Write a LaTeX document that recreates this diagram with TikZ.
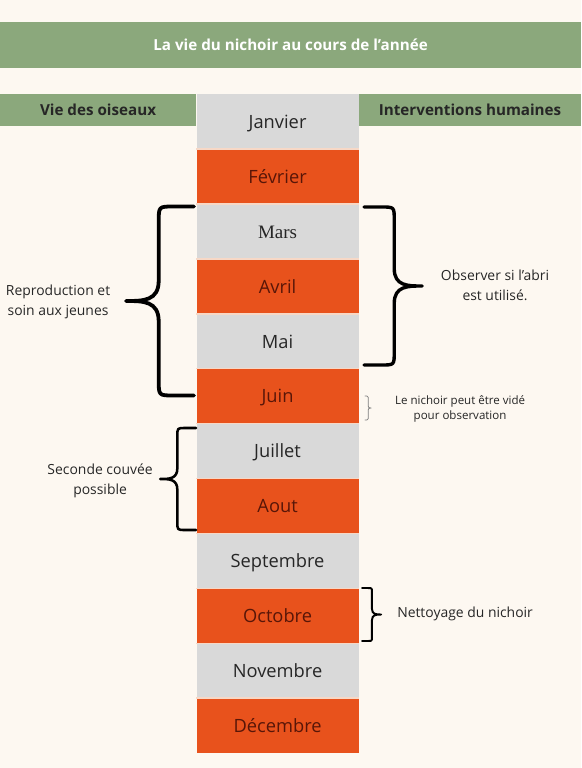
\documentclass[tikz,border=0pt]{standalone}
\usepackage{fontspec}
\setmainfont{Open Sans}
\newfontfamily\marsfont{Liberation Serif}
\usetikzlibrary{positioning}
\definecolor{cream}{RGB}{253,248,241}
\definecolor{sage}{RGB}{139,168,124}
\definecolor{rust}{RGB}{232,82,28}
\definecolor{mist}{RGB}{217,217,217}
\definecolor{seam}{RGB}{247,216,198}
\definecolor{maroon}{RGB}{88,22,8}
\definecolor{ink}{RGB}{38,38,38}
\tikzset{
  band/.style={fill=sage,inner sep=0pt,font=\fontsize{10.8}{13}\selectfont\bfseries},
  month/.style={fill=#1,inner sep=0pt,text height=1em,text depth=0pt,
    minimum width=4.05cm,minimum height=1.3725cm,font=\fontsize{13}{15}\selectfont},
  note/.style={text=ink,align=center,font=\fontsize{9.9}{14}\selectfont},
  tiny note/.style={text=ink,align=center,font=\fontsize{8.2}{11.3}\selectfont},
  % curly brace, tip at the origin, opening to the right
  pics/curly/.style n args={2}{code={
    \draw[line cap=round,line join=round] (#2,-#1) -- (0.7*#2,-#1)
      .. controls (0.48*#2,-#1) .. (0.48*#2,-#1+0.22*#2) -- (0.48*#2,-0.3*#2)
      .. controls (0.48*#2,0) and (0.25*#2,0) .. (0,0)
      .. controls (0.25*#2,0) and (0.48*#2,0) .. (0.48*#2,0.3*#2)
      -- (0.48*#2,#1-0.22*#2) .. controls (0.48*#2,#1) .. (0.7*#2,#1) -- (#2,#1);
  }},
}

\begin{document}
\begin{tikzpicture}[x=0.025cm,y=-0.025cm]
  \fill[cream] (0,0) rectangle (581,768);
  % title and column headers
  \node[band,text=white,minimum width=14.525cm,minimum height=1.15cm] (title) at (290.5,45) {La vie du nichoir au cours de l’année};
  \node[band,text=ink,minimum width=4.9cm,minimum height=0.8cm] (birds) at (98,110) {Vie des oiseaux};
  \node[band,text=ink,minimum width=5.55cm,minimum height=0.8cm] (humans) at (470,110) {Interventions humaines};
  % months
  \foreach \i/\m/\c/\t in {1/Janvier/mist/ink,2/Février/rust/maroon,3/{\marsfont\fontsize{13.5}{15}\selectfont Mars}/mist/ink,
      4/Avril/rust/maroon,5/Mai/mist/ink,6/Juin/rust/maroon,7/Juillet/mist/ink,8/Aout/rust/maroon,
      9/Septembre/mist/ink,10/Octobre/rust/maroon,11/Novembre/mist/ink,12/Décembre/rust/maroon}
    \node[month=\c,text=\t] (m\i) at (277.5,{94+(\i-0.5)*54.9}) {\m};
  \foreach \i in {1,...,11}
    \draw[seam,line width=1pt] (m\i.south west) -- (m\i.south east);
  % braces
  \pic[line width=2.7pt] at (126,301) {curly={94.5}{68}};
  \pic[line width=2.4pt,xscale=-1] at (422,286) {curly={79}{58}};
  \pic[line width=0.6pt,draw=ink!60,xscale=-1] at (371,408) {curly={12}{6}};
  \pic[line width=1.8pt] at (160,479) {curly={51}{36}};
  \pic[line width=1.4pt,xscale=-1] at (381,614.5) {curly={26.5}{19}};
  % annotations
  \node[note] (repro) at (58,302) {Reproduction et\\soin aux jeunes};
  \node[note] (watch) at (495,285) {Observer si l’abri\\est utilisé.};
  \node[tiny note] (empty) at (460,409) {Le nichoir peut être vidé\\pour observation};
  \node[note] (second) at (100,481) {Seconde couvée\\possible};
  \node[note] (clean) at (465,614) {Nettoyage du nichoir};
\end{tikzpicture}
\end{document}
